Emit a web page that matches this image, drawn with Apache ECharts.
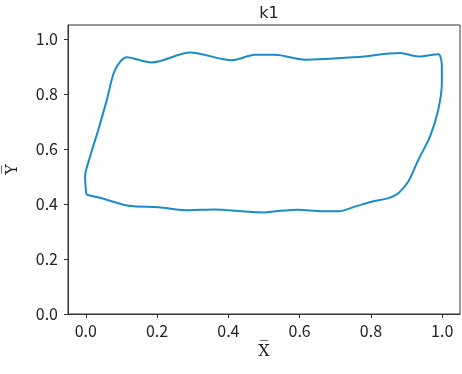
<!DOCTYPE html>
<html>
<head>
<meta charset="utf-8">
<script src="https://cdn.jsdelivr.net/npm/echarts@6/dist/echarts.min.js"></script>
<style>html,body{margin:0;padding:0;background:#fff;}#c{width:462px;height:374px;}</style>
</head>
<body>
<div id="c"></div>
<script>
var titleText = 'k1';
var xName = 'X\u0305';
var yName = 'Y\u0305';
var xTicks = [0.0, 0.2, 0.4, 0.6, 0.8, 1.0];
var yTicks = [0.0, 0.2, 0.4, 0.6, 0.8, 1.0];
var loopX = [0.003,0.054,0.12,0.204,0.279,0.363,0.438,0.503,0.531,0.596,0.662,0.709,0.755,0.802,0.849,0.877,0.905,0.933,0.966,0.989,0.999,0.999,0.989,0.933,0.882,0.755,0.615,0.531,0.475,0.41,0.293,0.185,0.115,0.082,0.059,0.035,0.012,-0.002,0.001,0.003];
var loopY = [0.433,0.417,0.393,0.388,0.377,0.380,0.373,0.369,0.373,0.379,0.373,0.373,0.39,0.408,0.421,0.439,0.481,0.56,0.645,0.742,0.839,0.90,0.944,0.936,0.948,0.933,0.924,0.942,0.942,0.922,0.950,0.914,0.933,0.887,0.778,0.669,0.572,0.499,0.439,0.433];

var pts = loopX.map(function(x, i){ return [x, loopY[i]]; });
var chart = echarts.init(document.getElementById('c'), null, {renderer:'canvas'});
var labelFont = {fontFamily:'Noto Sans CJK SC', fontSize:16, color:'#222'};
chart.setOption({
  animation:false,
  title:{text:titleText, left:264, top:1, textAlign:'center',
    textStyle:{fontFamily:'DejaVu Sans', fontSize:16, fontWeight:'normal', color:'#222'}},
  grid:{left:68, right:2, top:25, bottom:60, show:true, borderColor:'#333', borderWidth:1, backgroundColor:'transparent', containLabel:false, outerBoundsMode:'none'},
  xAxis:{type:'value', min:-0.05, max:1.05, interval:0.2,
    name:xName, nameLocation:'middle', nameGap:30,
    nameTextStyle:{fontFamily:'DejaVu Serif', fontSize:16, color:'#222'},
    axisLine:{show:true, onZero:false, lineStyle:{color:'#333'}},
    axisTick:{show:true, length:4, lineStyle:{color:'#333'}, customValues:xTicks},
    axisLabel:Object.assign({margin:9, customValues:xTicks, formatter:function(v){return v.toFixed(1);}}, labelFont),
    splitLine:{show:false}},
  yAxis:{type:'value', min:0, max:1.05, interval:0.2,
    name:yName, nameLocation:'middle', nameGap:47, nameRotate:90,
    nameTextStyle:{fontFamily:'DejaVu Serif', fontSize:16, color:'#222'},
    axisLine:{show:true, onZero:false, lineStyle:{color:'#333'}},
    axisTick:{show:true, length:4, lineStyle:{color:'#333'}, customValues:yTicks},
    axisLabel:Object.assign({margin:10, customValues:yTicks, formatter:function(v){return v.toFixed(1);}}, labelFont),
    splitLine:{show:false}},
  series:[{type:'line', data:pts, showSymbol:false, smooth:0.3,
    lineStyle:{color:'#1a8cc8', width:2}}]
});
</script>
</body>
</html>
